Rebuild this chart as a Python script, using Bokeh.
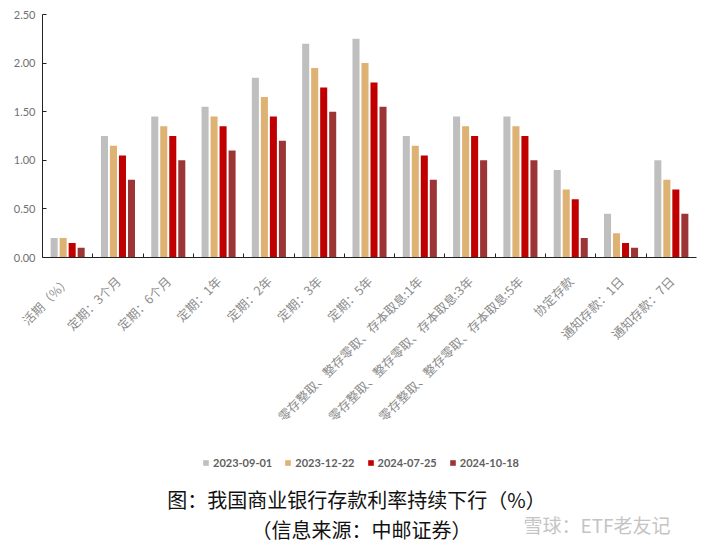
from bokeh.plotting import figure
from bokeh.layouts import column
from bokeh.models import (ColumnDataSource, Range1d, FixedTicker, Legend, LegendItem,
                          Label)
from bokeh.embed import file_html
from bokeh.resources import INLINE
import math

categories = ["活期（%）", "定期：3个月", "定期：6个月", "定期：1年", "定期：2年",
              "定期：3年", "定期：5年",
              "零存整取、整存零取、存本取息:1年", "零存整取、整存零取、存本取息:3年",
              "零存整取、整存零取、存本取息:5年", "协定存款", "通知存款：1日", "通知存款：7日"]
series_names = ["2023-09-01", "2023-12-22", "2024-07-25", "2024-10-18"]
s_2023_09_01 = [0.20, 1.25, 1.45, 1.55, 1.85, 2.20, 2.25, 1.25, 1.45, 1.45, 0.90, 0.45, 1.00]
s_2023_12_22 = [0.20, 1.15, 1.35, 1.45, 1.65, 1.95, 2.00, 1.15, 1.35, 1.35, 0.70, 0.25, 0.80]
s_2024_07_25 = [0.15, 1.05, 1.25, 1.35, 1.45, 1.75, 1.80, 1.05, 1.25, 1.25, 0.60, 0.15, 0.70]
s_2024_10_18 = [0.10, 0.80, 1.00, 1.10, 1.20, 1.50, 1.55, 0.80, 1.00, 1.00, 0.20, 0.10, 0.45]
y_ticks = [0.0, 0.5, 1.0, 1.5, 2.0, 2.5]
title_text = "图：我国商业银行存款利率持续下行（%）"
source_text = "（信息来源：中邮证券）"
watermark_text = "雪球：ETF老友记"

series_values = [s_2023_09_01, s_2023_12_22, s_2024_07_25, s_2024_10_18]
colors = ["#BFBFBF", "#DDB273", "#C00000", "#9C3535"]

n = len(categories)
W = 703
H1 = 453
H2 = 94
BL, BR = 42, 7

p = figure(width=W, height=H1, output_backend="svg", toolbar_location=None,
           x_range=Range1d(0, n), y_range=Range1d(0, 2.5),
           min_border_left=BL, min_border_right=BR, min_border_top=14,
           min_border_bottom=196)
p.outline_line_color = None
p.xgrid.visible = False
p.ygrid.visible = False

pitch = 0.179
bw = 0.14
offsets = [-1.5, -0.5, 0.5, 1.5]
for k, (name, vals) in enumerate(zip(series_names, series_values)):
    xs = [i + 0.5 + offsets[k] * pitch for i in range(n)]
    src = ColumnDataSource(dict(x=xs, top=vals))
    p.vbar(x="x", top="top", width=bw, bottom=0, source=src,
           fill_color=colors[k], line_color=None)

# x axis
centers = [i + 0.5 for i in range(n)]
p.xaxis.ticker = FixedTicker(ticks=centers, minor_ticks=list(range(1, n)))
p.xaxis.major_label_overrides = {c: lab for c, lab in zip(centers, categories)}
p.xaxis.major_label_orientation = math.pi / 4
p.xaxis.major_tick_line_color = None
p.xaxis.minor_tick_in = 4
p.xaxis.minor_tick_out = 0
p.xaxis.minor_tick_line_color = "#222222"
p.xaxis.axis_line_color = "#222222"
p.xaxis.major_label_text_font = "Noto Sans CJK SC"
p.xaxis.major_label_text_font_size = "12.5px"
p.xaxis.major_label_text_color = "#8C8C8C"
p.xaxis.major_label_standoff = 15

# y axis
p.yaxis.ticker = FixedTicker(ticks=y_ticks)
p.yaxis.major_label_overrides = {t: f"{t:.2f}" for t in y_ticks}
p.yaxis.minor_tick_line_color = None
p.yaxis.major_tick_in = 4
p.yaxis.major_tick_out = 0
p.yaxis.major_tick_line_color = "#222222"
p.yaxis.axis_line_color = "#222222"
p.yaxis.major_label_text_font = "Lato"
p.yaxis.major_label_text_font_size = "11px"
p.yaxis.major_label_text_color = "#707070"
p.yaxis.major_label_standoff = 7

# bottom panel: legend, title, source (x data units = page pixels)
q = figure(width=W, height=H2, output_backend="svg", toolbar_location=None,
           x_range=Range1d(BL, W - BR), y_range=Range1d(H2, 0),
           x_axis_type=None, y_axis_type=None,
           min_border_left=BL, min_border_right=BR,
           min_border_top=0, min_border_bottom=0)
q.outline_line_color = None
q.xgrid.visible = False
q.ygrid.visible = False

items = []
for k, name in enumerate(series_names):
    r = q.vbar(x=[float("nan")], top=[float("nan")], width=1,
               fill_color=colors[k], line_color=None)
    items.append(LegendItem(label=name, renderers=[r]))

legend = Legend(items=items, orientation="horizontal", location=(160, H2 - 16),
                glyph_width=7, glyph_height=7, label_text_font_size="11px",
                label_text_font="Lato", label_text_font_style="bold",
                label_text_color="#606060",
                label_standoff=4, spacing=12, padding=1, margin=0,
                label_height=12,
                border_line_color=None, background_fill_alpha=0)
q.add_layout(legend, "center")

t1 = Label(x=356, y=46, text=title_text, text_align="center",
           text_baseline="middle",
           text_font="Noto Sans CJK SC", text_font_size="20px", text_color="#111111")
t2 = Label(x=361, y=76, text=source_text, text_align="center", text_baseline="middle",
           text_font="Noto Sans CJK SC", text_font_size="20px", text_color="#111111")
wm = Label(x=523, y=71, text=watermark_text, text_font="Noto Sans CJK SC",
           text_baseline="middle", text_font_size="19px", text_color="#C4C4C4")
q.add_layout(t1)
q.add_layout(t2)
q.add_layout(wm)

layout = column(p, q, spacing=0)
open("out.html", "w").write(file_html(layout, INLINE))
